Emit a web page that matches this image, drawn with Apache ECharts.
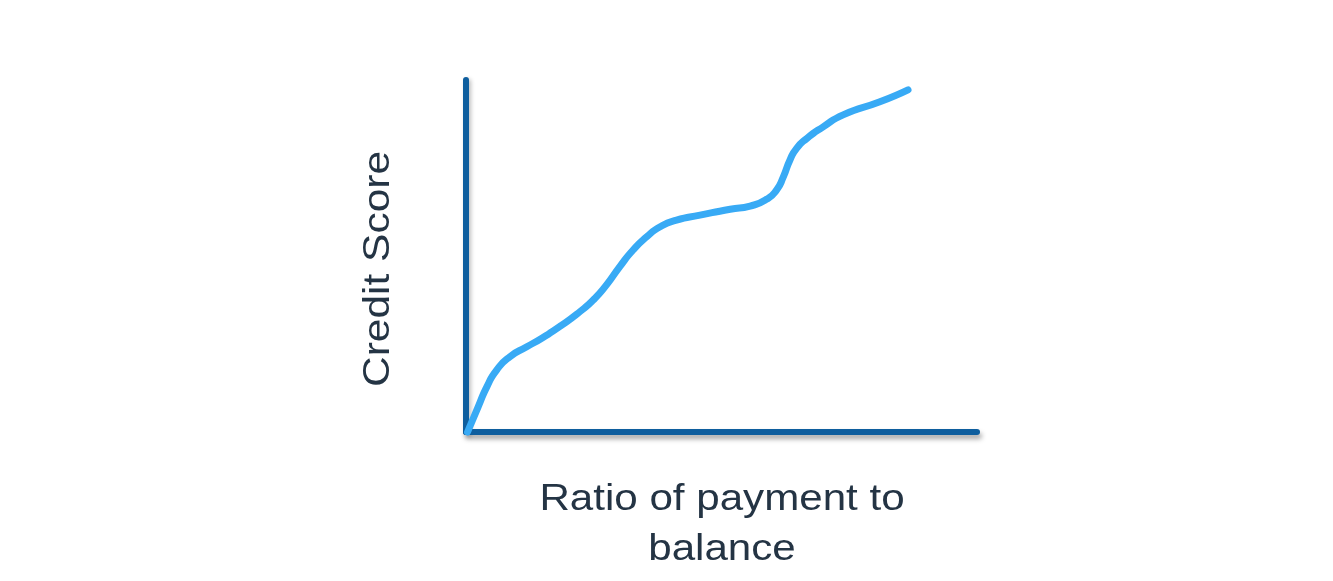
<!DOCTYPE html>
<html>
<head>
<meta charset="utf-8">
<script src="https://cdn.jsdelivr.net/npm/echarts@6/dist/echarts.min.js"></script>
<style>
html,body{margin:0;padding:0;background:#fff;}
#chart{width:1333px;height:581px;}
</style>
</head>
<body>
<div id="chart"></div>
<script>
// Ratio of payment to balance (0-100 scale, unlabelled axis)
var ratioValues = [0.3, 2.4, 4.1, 6.0, 8.6, 11.9, 15.0, 18.6, 22.3, 24.9, 27.5, 30.1, 32.7, 35.4, 38.0, 41.2, 45.8, 51.7, 55.6, 58.8, 60.8, 62.1, 63.4, 64.7, 66.7, 69.9, 73.8, 81.0, 86.5];
// Credit score (0-100 scale, unlabelled axis)
var scoreValues = [0.0, 7.2, 12.9, 17.6, 21.4, 24.2, 26.8, 30.2, 34.2, 37.5, 41.8, 47.0, 51.7, 55.5, 58.3, 60.2, 61.6, 63.3, 64.2, 66.1, 68.8, 72.5, 77.3, 80.6, 83.4, 86.7, 90.1, 93.8, 97.2];
var xAxisTitle = 'Ratio of payment to\nbalance';
var yAxisTitle = 'Credit Score';

var seriesData = ratioValues.map(function (x, i) { return [x, scoreValues[i]]; });

var axisColor = '#0e5e9e';
var textColor = '#243444';
var fontFam = '"Liberation Sans", Arial, sans-serif';

var chart = echarts.init(document.getElementById('chart'), null, {renderer: 'canvas'});
chart.setOption({
  backgroundColor: '#ffffff',
  animation: false,
  grid: {left: 466, right: 356, top: 80, bottom: 149, containLabel: false},
  xAxis: {
    type: 'value', min: 0, max: 100,
    axisLine: {show: true, onZero: false, lineStyle: {color: axisColor, width: 6,
      shadowColor: 'rgba(0,0,0,0.35)', shadowBlur: 5, shadowOffsetX: 2, shadowOffsetY: 4}},
    axisTick: {show: false}, axisLabel: {show: false}, splitLine: {show: false}
  },
  yAxis: {
    type: 'value', min: 0, max: 100,
    axisLine: {show: true, onZero: false, lineStyle: {color: axisColor, width: 6,
      shadowColor: 'rgba(0,0,0,0.25)', shadowBlur: 4, shadowOffsetX: 2, shadowOffsetY: 2}},
    axisTick: {show: false}, axisLabel: {show: false}, splitLine: {show: false}
  },
  series: [{
    type: 'line',
    data: seriesData,
    smooth: 0.6,
    showSymbol: false,
    symbol: 'none',
    clip: false,
    lineStyle: {color: '#38aaf5', width: 7, cap: 'round'},
    z: 1
  }],
  graphic: [
    {
      type: 'text',
      x: 379, y: 269, rotation: Math.PI / 2, scaleX: 1.18,
      style: {text: yAxisTitle, fill: textColor, font: '36px ' + fontFam,
        textAlign: 'center', textVerticalAlign: 'middle'}
    },
    {
      type: 'text',
      x: 722, y: 525, scaleX: 1.17,
      style: {text: xAxisTitle, fill: textColor, font: '36px ' + fontFam,
        textAlign: 'center', textVerticalAlign: 'middle', lineHeight: 50}
    }
  ]
});
</script>
</body>
</html>
